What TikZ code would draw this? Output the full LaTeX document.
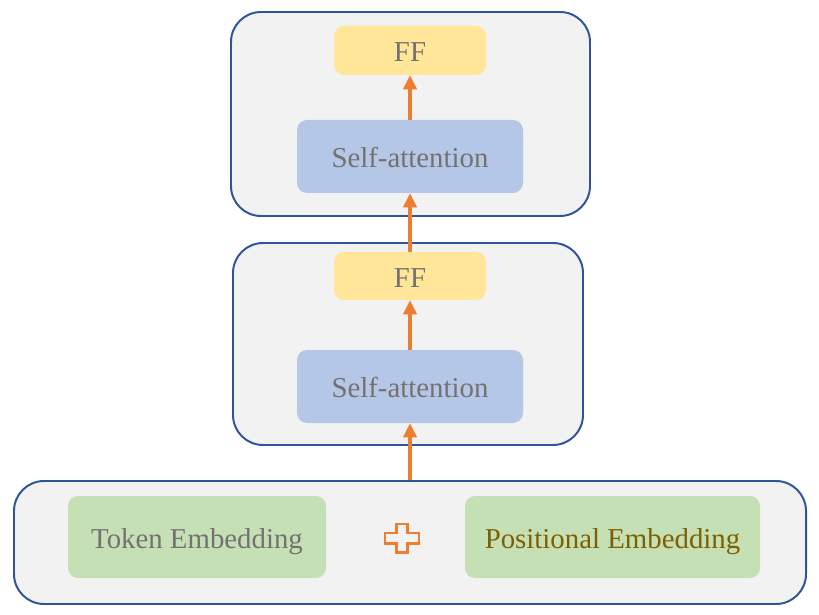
\documentclass[tikz,border=0pt]{standalone}
\usepackage{fontspec}
\setmainfont{Liberation Serif}
\usepackage{xcolor}
\usetikzlibrary{arrows.meta,positioning,calc}

\definecolor{blockfill}{HTML}{F2F2F2}
\definecolor{blockline}{HTML}{2F5597}
\definecolor{fffill}{HTML}{FFE699}
\definecolor{safill}{HTML}{B4C7E7}
\definecolor{embfill}{HTML}{C5E0B4}
\definecolor{txtgray}{HTML}{767171}
\definecolor{txtbrown}{HTML}{7F6000}
\definecolor{arroworange}{HTML}{ED7D31}

\begin{document}
\begin{tikzpicture}[x=0.025cm, y=-0.025cm,
    block/.style={draw=blockline, line width=1.4pt, fill=blockfill, rounded corners=0.75cm, inner sep=0pt},
    inner/.style={rounded corners=0.25cm, inner sep=0pt, text=txtgray, font=\fontsize{20.5}{24}\selectfont, text height=20pt, text depth=4pt},
    uparrow/.style={-{Triangle[length=3.5mm, width=3.3mm]}, line width=2.2pt, draw=arroworange}]
        \useasboundingbox (0,0) rectangle (819,615);
        % outer blocks
        \node[block, minimum width=359*0.025cm, minimum height=204*0.025cm] (top) at (410.5,114) {};
        \node[block, minimum width=350*0.025cm, minimum height=202*0.025cm] (mid) at (408,344) {};
        \node[block, minimum width=792*0.025cm, minimum height=123*0.025cm] (emb) at (410,542.5) {};
        % inner boxes
        \node[inner, fill=embfill, minimum width=258*0.025cm, minimum height=82*0.025cm] (tok) at (197,537) {Token Embedding};
        \node[inner, fill=embfill, text=txtbrown, minimum width=295*0.025cm, minimum height=82*0.025cm] (pos) at (612.5,537) {Positional Embedding};
        \node[inner, fill=safill, minimum width=226*0.025cm, minimum height=73*0.025cm] (sa1) at (410,386.5) {Self-attention};
        \node[inner, fill=fffill, minimum width=152*0.025cm, minimum height=48*0.025cm] (ff1) at (410,276) {FF};
        \node[inner, fill=safill, minimum width=226*0.025cm, minimum height=73*0.025cm] (sa2) at (410,156.5) {Self-attention};
        \node[inner, fill=fffill, minimum width=152*0.025cm, minimum height=49*0.025cm] (ff2) at (410,50.5) {FF};
        % plus sign
        \draw[arroworange, line width=1.7pt, fill=blockfill]
          (396.5,524) -- (407.5,524) -- (407.5,533) -- (419,533) -- (419,543.5) -- (407.5,543.5)
          -- (407.5,552.5) -- (396.5,552.5) -- (396.5,543.5) -- (385,543.5) -- (385,533) -- (396.5,533) -- cycle;
        % arrows
        \draw[uparrow] (emb.north) -- (sa1.south);
        \draw[uparrow] (sa1.north) -- (ff1.south);
        \draw[uparrow] (ff1.north) -- (sa2.south);
        \draw[uparrow] (sa2.north) -- (ff2.south);
      \end{tikzpicture}
\end{document}
